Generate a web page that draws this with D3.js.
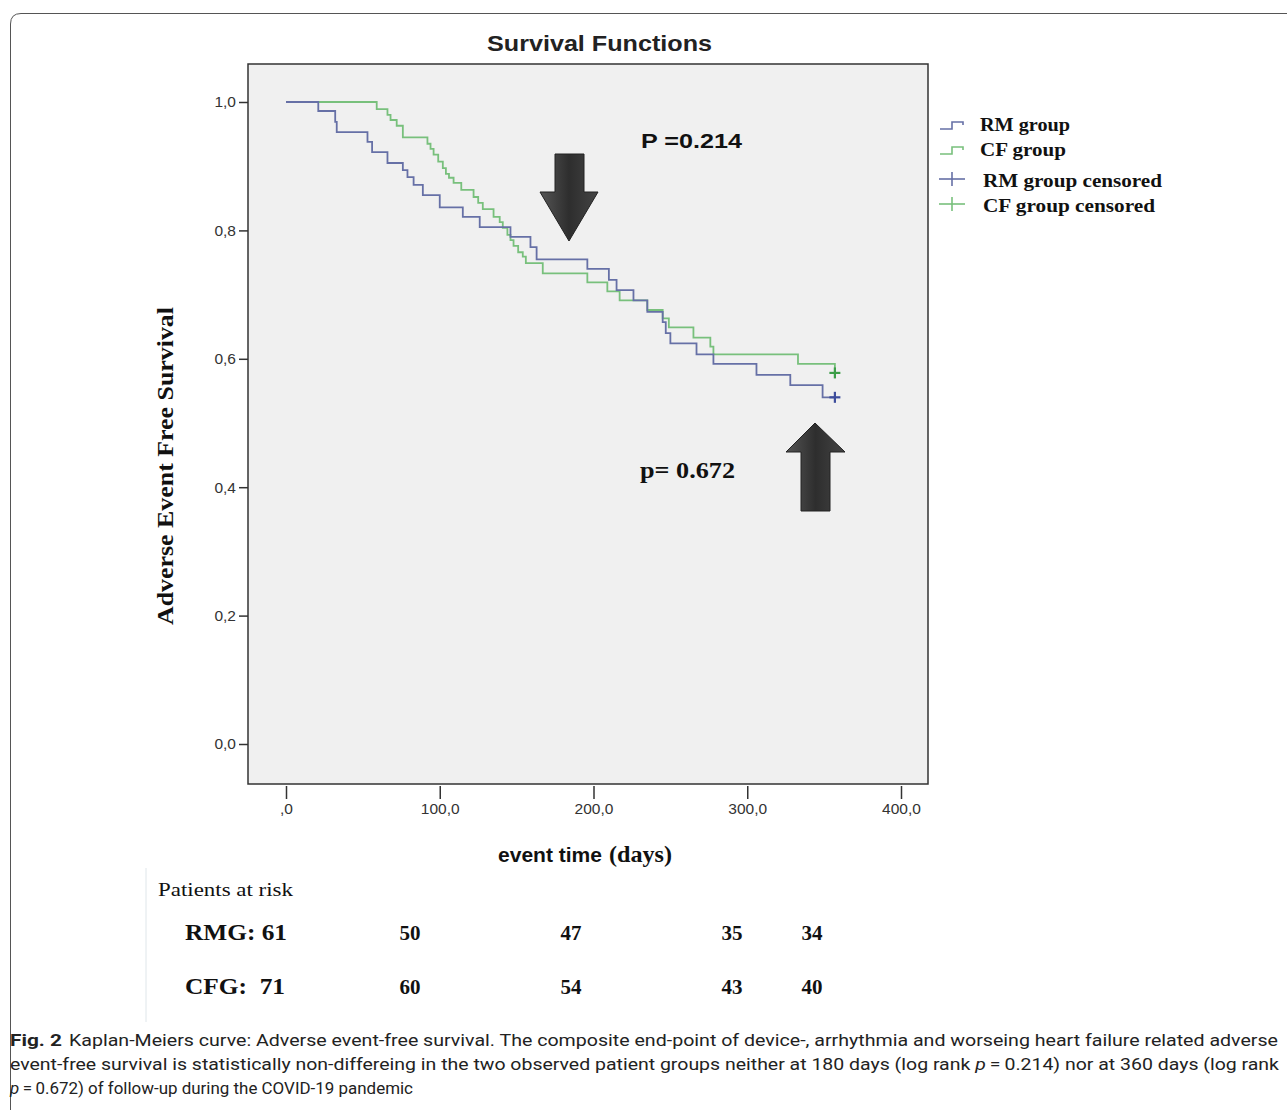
<!DOCTYPE html>
<html>
<head>
<meta charset="utf-8">
<script src="https://cdn.jsdelivr.net/npm/d3@7.9.0/dist/d3.min.js"></script>
<style>
  body { margin: 0; background: #fff; }
  svg { display: block; }
</style>
</head>
<body>
<svg id="chart" width="1287" height="1110"></svg>
<script>
// Kaplan-Meier steps (days, survival)
const rmTimes = [21, 32, 33, 53, 56, 66, 76, 79, 83, 89, 100, 115, 126, 146, 159, 163, 196, 210, 215, 226, 235, 245, 247, 250, 267, 278, 306, 328, 349];
const rmSurv  = [0.986, 0.969, 0.953, 0.938, 0.922, 0.905, 0.894, 0.883, 0.871, 0.855, 0.836, 0.821, 0.805, 0.790, 0.774, 0.755, 0.740, 0.723, 0.707, 0.691, 0.673, 0.657, 0.640, 0.624, 0.607, 0.592, 0.575, 0.559, 0.540];
const cfTimes = [59, 66, 68, 72, 76, 92, 94, 96, 99, 102, 104, 106, 109, 114, 122, 125, 128, 135, 139, 141, 144, 146, 148, 151, 154, 156, 167, 196, 209, 217, 235, 245, 249, 265, 276, 278, 333, 357];
const cfSurv  = [0.989, 0.980, 0.972, 0.963, 0.945, 0.935, 0.927, 0.918, 0.907, 0.897, 0.888, 0.882, 0.874, 0.863, 0.852, 0.843, 0.833, 0.821, 0.813, 0.804, 0.793, 0.785, 0.776, 0.766, 0.759, 0.749, 0.733, 0.719, 0.705, 0.691, 0.676, 0.663, 0.649, 0.633, 0.619, 0.607, 0.592, 0.578];
const rmCensored = [[357, 0.540]];
const cfCensored = [[357, 0.578]];

const xTicks = [0, 100, 200, 300, 400];
const yTicks = [0, 0.2, 0.4, 0.6, 0.8, 1.0];

const legendLabels = ["RM group", "CF group", "RM group censored", "CF group censored"];
const riskGroups = ["RMG: 61", "CFG:  71"];
const riskRM = [50, 47, 35, 34];
const riskCF = [60, 54, 43, 40];

const blue = "#6670a6", green = "#78c07c";
const blueMark = "#3d4d9c", greenMark = "#3c9e48";
const serif = "Liberation Serif, Times New Roman, serif";
const sans = "Liberation Sans, Arial, sans-serif";

const svg = d3.select("#chart");

// outer card frame
svg.append("path")
  .attr("d", "M10.5,1110 L10.5,24 Q10.5,13.5 21,13.5 L1290,13.5")
  .attr("fill", "none").attr("stroke", "#555").attr("stroke-width", 1);

// faint edge of the pasted at-risk table
svg.append("line").attr("x1", 146).attr("x2", 146).attr("y1", 868).attr("y2", 1022)
  .attr("stroke", "#dfe6ea").attr("stroke-width", 1);

const box = { left: 248, right: 928, top: 64, bottom: 784 };
const x = d3.scaleLinear().domain([0, 400]).range([286, 901]);
const y = d3.scaleLinear().domain([0, 1]).range([744, 102]);

svg.append("rect")
  .attr("x", box.left).attr("y", box.top)
  .attr("width", box.right - box.left).attr("height", box.bottom - box.top)
  .attr("fill", "#f0f0f0").attr("stroke", "#333").attr("stroke-width", 1.5);

const yAxis = svg.append("g")
  .attr("transform", `translate(${box.left},0)`)
  .call(d3.axisLeft(y).tickValues(yTicks).tickSize(9).tickPadding(3)
    .tickFormat(d => d.toFixed(1).replace(".", ",")));
yAxis.select(".domain").remove();

const xAxis = svg.append("g")
  .attr("transform", `translate(0,${box.bottom + 2})`)
  .call(d3.axisBottom(x).tickValues(xTicks).tickSize(13).tickPadding(4)
    .tickFormat(d => d === 0 ? ",0" : d.toFixed(1).replace(".", ",")));
xAxis.select(".domain").remove();

svg.selectAll(".tick line").attr("stroke", "#333").attr("stroke-width", 1.5);
svg.selectAll(".tick text")
  .attr("font-family", sans).attr("font-size", 15.5).attr("fill", "#333");

// step curves
const step = d3.line().x(d => x(d[0])).y(d => y(d[1])).curve(d3.curveStepAfter);
const rmPts = [[0, 1]].concat(rmTimes.map((t, i) => [t, rmSurv[i]]), rmCensored);
const cfPts = [[0, 1]].concat(cfTimes.map((t, i) => [t, cfSurv[i]]));

svg.append("path").attr("d", step(cfPts))
  .attr("fill", "none").attr("stroke", green).attr("stroke-width", 1.8);
svg.append("path").attr("d", step(rmPts))
  .attr("fill", "none").attr("stroke", blue).attr("stroke-width", 1.8);

function plus(g, px, py, r, color, w) {
  g.append("line").attr("x1", px - r).attr("x2", px + r).attr("y1", py).attr("y2", py)
    .attr("stroke", color).attr("stroke-width", w);
  g.append("line").attr("x1", px).attr("x2", px).attr("y1", py - r).attr("y2", py + r)
    .attr("stroke", color).attr("stroke-width", w);
}
rmCensored.forEach(d => plus(svg, x(d[0]), y(d[1]), 5.5, blueMark, 2.2));
cfCensored.forEach(d => plus(svg, x(d[0]), y(d[1]), 5.5, greenMark, 2.2));

// arrows
const defs = svg.append("defs");
const grad = defs.append("linearGradient").attr("id", "arrowGrad")
  .attr("x1", "0").attr("x2", "1").attr("y1", "0").attr("y2", "0");
grad.append("stop").attr("offset", "0").attr("stop-color", "#555");
grad.append("stop").attr("offset", "0.5").attr("stop-color", "#2e2e2e");
grad.append("stop").attr("offset", "1").attr("stop-color", "#444");

svg.append("polygon")
  .attr("points", "555,154 584,154 584,192 598,192 569,241 540,192 555,192")
  .attr("fill", "url(#arrowGrad)").attr("stroke", "#222").attr("stroke-width", 1);
svg.append("polygon")
  .attr("points", "815,423 845,452 830,452 830,511 801,511 801,452 786,452")
  .attr("fill", "url(#arrowGrad)").attr("stroke", "#222").attr("stroke-width", 1);

// titles and annotations
svg.append("text").attr("x", 487).attr("y", 51)
  .attr("font-family", sans).attr("font-size", 22)
  .attr("textLength", 225).attr("lengthAdjust", "spacingAndGlyphs")
  .attr("fill", "#222").attr("font-weight", "bold").text("Survival Functions");

svg.append("text").attr("x", 641).attr("y", 148)
  .attr("font-family", sans).attr("font-size", 21).attr("font-weight", "bold")
  .attr("textLength", 101).attr("lengthAdjust", "spacingAndGlyphs")
  .attr("fill", "#111").text("P =0.214");

svg.append("text").attr("x", 640).attr("y", 478)
  .attr("font-family", serif).attr("font-size", 23).attr("font-weight", "bold")
  .attr("textLength", 95).attr("lengthAdjust", "spacingAndGlyphs")
  .attr("fill", "#111").text("p= 0.672");

svg.append("text")
  .attr("transform", "translate(173,625) rotate(-90)")
  .attr("font-family", serif).attr("font-size", 24).attr("font-weight", "bold")
  .attr("textLength", 318).attr("lengthAdjust", "spacingAndGlyphs")
  .attr("fill", "#111").text("Adverse Event Free Survival");

const xl = svg.append("text").attr("x", 498).attr("y", 862)
  .attr("font-weight", "bold").attr("fill", "#111");
xl.append("tspan").attr("font-family", sans).attr("font-size", 21)
  .attr("textLength", 104).attr("lengthAdjust", "spacingAndGlyphs").text("event time");
xl.append("tspan").attr("x", 609).attr("font-family", serif).attr("font-size", 23)
  .attr("textLength", 63).attr("lengthAdjust", "spacingAndGlyphs").text("(days)");

// legend
const legend = svg.append("g").attr("transform", "translate(940,0)");
const legY = [125, 150, 181, 206];
const legW = [90, 86, 179, 172];
legendLabels.forEach((lab, i) => {
  const c = i % 2 === 0 ? blue : green;
  const ly = legY[i];
  if (i < 2) {
    legend.append("path")
      .attr("d", `M0,${ly + 4} H12 V${ly - 3} H23 V${ly}`)
      .attr("fill", "none").attr("stroke", c).attr("stroke-width", 1.6);
  } else {
    legend.append("line").attr("x1", -1).attr("x2", 25).attr("y1", ly - 2).attr("y2", ly - 2)
      .attr("stroke", c).attr("stroke-width", 1.6);
    legend.append("line").attr("x1", 12).attr("x2", 12).attr("y1", ly - 9).attr("y2", ly + 5)
      .attr("stroke", c).attr("stroke-width", 1.6);
  }
  legend.append("text").attr("x", i < 2 ? 40 : 43).attr("y", ly + 6)
    .attr("font-family", serif).attr("font-size", 19.5).attr("font-weight", "bold")
    .attr("textLength", legW[i]).attr("lengthAdjust", "spacingAndGlyphs")
    .attr("fill", "#111").text(lab);
});

// patients at risk table
const riskX = [410, 571, 732, 812];
svg.append("text").attr("x", 158).attr("y", 896)
  .attr("font-family", serif).attr("font-size", 18)
  .attr("textLength", 135).attr("lengthAdjust", "spacingAndGlyphs")
  .attr("fill", "#111").text("Patients at risk");
[riskRM, riskCF].forEach((row, r) => {
  const ry = r === 0 ? 940 : 994;
  svg.append("text").attr("x", 185).attr("y", ry)
    .attr("font-family", serif).attr("font-size", 24).attr("font-weight", "bold")
    .attr("textLength", r === 0 ? 102 : 100).attr("lengthAdjust", "spacingAndGlyphs")
    .attr("fill", "#111").style("white-space", "pre").text(riskGroups[r]);
  row.forEach((v, i) => {
    svg.append("text").attr("x", riskX[i]).attr("y", ry).attr("text-anchor", "middle")
      .attr("font-family", serif).attr("font-size", 21).attr("font-weight", "bold")
      .attr("fill", "#111").text(v);
  });
});

// caption
const capFont = "Roboto, Liberation Sans, sans-serif";
svg.append("text").attr("x", 10).attr("y", 1046)
  .attr("font-family", capFont).attr("font-size", 17).attr("font-weight", "bold")
  .attr("fill", "#222").attr("textLength", 52).attr("lengthAdjust", "spacingAndGlyphs").text("Fig. 2");
const capLines = [
  { x: 69, y: 1046, w: 1209, parts: ["Kaplan-Meiers curve: Adverse event-free survival. The composite end-point of device-, arrhythmia and worseing heart failure related adverse"] },
  { x: 10, y: 1070, w: 1269, parts: ["event-free survival is statistically non-differeing in the two observed patient groups neither at 180 days (log rank ", "p", "\u2009=\u20090.214) nor at 360 days (log rank"] },
  { x: 10, y: 1094, w: 403, parts: ["p", "\u2009=\u20090.672) of follow-up during the COVID-19 pandemic"] }
];
capLines.forEach(l => {
  const t = svg.append("text").attr("x", l.x).attr("y", l.y)
    .attr("font-family", capFont).attr("font-size", 17).attr("fill", "#222")
    .attr("textLength", l.w).attr("lengthAdjust", "spacingAndGlyphs");
  l.parts.forEach(p => {
    t.append("tspan").attr("font-style", p === "p" ? "italic" : "normal").text(p);
  });
});
</script>
</body>
</html>
